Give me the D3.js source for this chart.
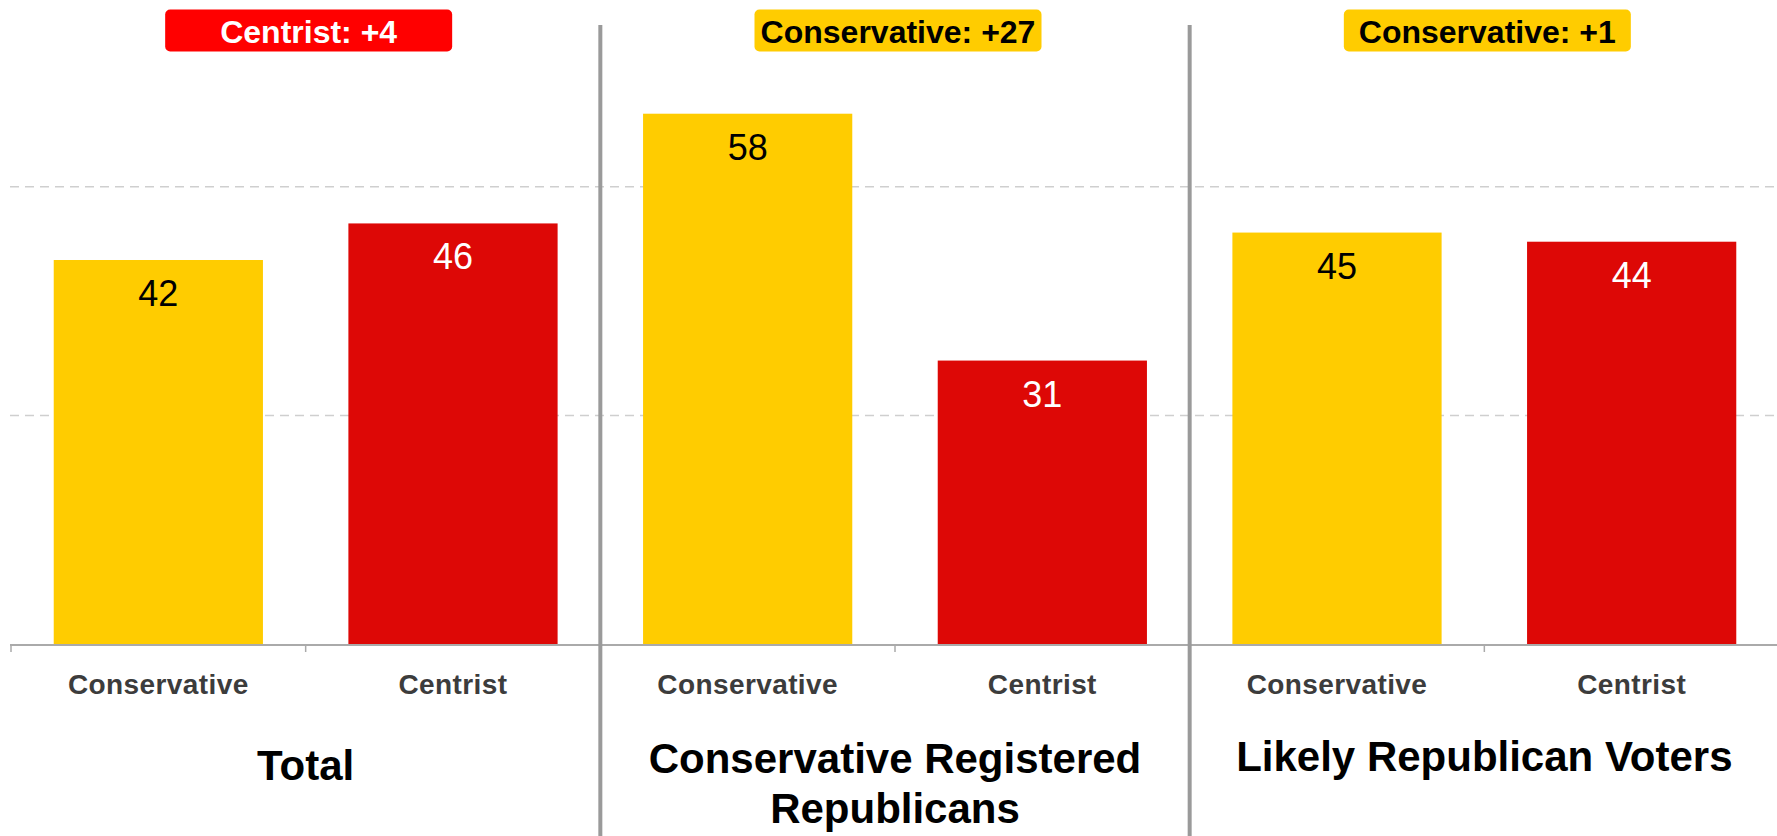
<!DOCTYPE html>
<html>
<head>
<meta charset="utf-8">
<script src="https://cdn.jsdelivr.net/npm/d3@7"></script>
<style>
  html, body { margin: 0; padding: 0; background: #fff; }
  svg { display: block; font-family: "Liberation Sans", Arial, sans-serif; }
</style>
</head>
<body>
<script>
// ---- data ----
const groups = ["Total", "Conservative Registered Republicans", "Likely Republican Voters"];
const groupTitleLines = [["Total"], ["Conservative Registered", "Republicans"], ["Likely Republican Voters"]];
const categories = ["Conservative", "Centrist"];
const conservativeValues = [42, 58, 45];
const centristValues = [46, 31, 44];
const gridTicks = [25, 50];

// ---- layout ----
const W = 1777, H = 836;
const baseY = 644, topY = 4;
const colors = { Conservative: "#FFCC00", Centrist: "#DD0806" };
const badgeColors = { Conservative: "#FFCC00", Centrist: "#FF0000" };
const labelColors = { Conservative: "#000", Centrist: "#fff" };
const badgeTextColors = { Conservative: "#000", Centrist: "#fff" };
const titleBaselines = [[780], [773, 823], [771]];

const svg = d3.select("body").append("svg").attr("width", W).attr("height", H);

const x0 = d3.scaleBand().domain(groups).range([11, 1779]).padding(0);
const x1 = d3.scaleBand().domain(categories).range([0, x0.bandwidth()])
  .paddingInner(0.29).paddingOuter(0.145);
const y = d3.scaleLinear().domain([0, 70]).range([baseY, topY]);
const step1 = x1.step();

const rows = groups.map((g, i) => ({
  group: g, idx: i,
  values: [
    { cat: "Conservative", v: conservativeValues[i] },
    { cat: "Centrist", v: centristValues[i] }
  ]
}));

// gridlines
svg.append("g").selectAll("line").data(gridTicks).join("line")
  .attr("x1", 10).attr("x2", W)
  .attr("y1", d => y(d)).attr("y2", d => y(d))
  .attr("stroke", "#cfcfcf").attr("stroke-width", 1.5)
  .attr("stroke-dasharray", "9,6");

// bars
const gGroups = svg.append("g").selectAll("g").data(rows).join("g")
  .attr("transform", d => `translate(${x0(d.group)},0)`);

gGroups.selectAll("rect").data(d => d.values).join("rect")
  .attr("x", d => x1(d.cat)).attr("width", x1.bandwidth())
  .attr("y", d => y(d.v)).attr("height", d => y(0) - y(d.v))
  .attr("fill", d => colors[d.cat]);

gGroups.selectAll("text.val").data(d => d.values).join("text")
  .attr("class", "val")
  .attr("x", d => x1(d.cat) + x1.bandwidth() / 2)
  .attr("y", d => y(d.v) + 46)
  .attr("text-anchor", "middle")
  .attr("font-size", 36)
  .attr("fill", d => labelColors[d.cat])
  .text(d => d.v);

// category labels
gGroups.selectAll("text.cat").data(d => d.values).join("text")
  .attr("class", "cat")
  .attr("x", d => x1(d.cat) + x1.bandwidth() / 2)
  .attr("y", 694)
  .attr("text-anchor", "middle")
  .attr("font-size", 28).attr("font-weight", "bold")
  .attr("letter-spacing", 0.4)
  .attr("fill", "#3c3c3c")
  .text(d => d.cat);

// axis baseline + ticks
svg.append("line").attr("x1", 10).attr("x2", W)
  .attr("y1", baseY + 1).attr("y2", baseY + 1)
  .attr("stroke", "#aaa").attr("stroke-width", 2);
const tickXs = [];
groups.forEach(g => categories.forEach(c => tickXs.push(x0(g) + x1(c) - step1 * x1.paddingOuter() / (1) * 1)));
svg.append("g").selectAll("line").data(tickXs).join("line")
  .attr("x1", d => d).attr("x2", d => d)
  .attr("y1", baseY).attr("y2", baseY + 8)
  .attr("stroke", "#aaa").attr("stroke-width", 1.5);

// separators
svg.append("g").selectAll("line").data(groups.slice(1)).join("line")
  .attr("x1", d => x0(d)).attr("x2", d => x0(d))
  .attr("y1", 25).attr("y2", H)
  .attr("stroke", "#9a9a9a").attr("stroke-width", 4);

// badges
const badgeW = 287, badgeH = 42;
rows.forEach(r => {
  const [a, b] = r.values;
  const lead = a.v >= b.v ? a : b;
  const diff = Math.abs(a.v - b.v);
  const cx = x0(r.group) + x0.bandwidth() / 2 + 3;
  const g = svg.append("g");
  g.append("rect")
    .attr("x", cx - badgeW / 2).attr("y", 9.5)
    .attr("width", badgeW).attr("height", badgeH)
    .attr("rx", 5).attr("fill", badgeColors[lead.cat]);
  g.append("text")
    .attr("x", cx).attr("y", 42.5)
    .attr("text-anchor", "middle")
    .attr("font-size", 32).attr("font-weight", "bold")
    .attr("fill", badgeTextColors[lead.cat])
    .text(`${lead.cat}: +${diff}`);
});

// group titles
rows.forEach(r => {
  const cx = x0(r.group) + x0.bandwidth() / 2;
  groupTitleLines[r.idx].forEach((line, j) => {
    svg.append("text")
      .attr("x", cx).attr("y", titleBaselines[r.idx][j])
      .attr("text-anchor", "middle")
      .attr("font-size", 42).attr("font-weight", "bold")
      .attr("fill", "#000")
      .text(line);
  });
});
</script>
</body>
</html>
